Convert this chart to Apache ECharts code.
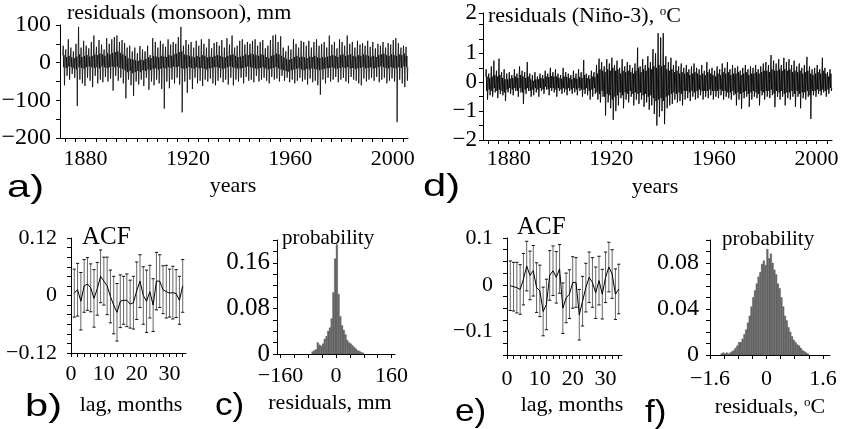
<!DOCTYPE html>
<html><head><meta charset="utf-8">
<script src="https://cdn.jsdelivr.net/npm/echarts@6/dist/echarts.min.js"></script>
<style>html,body{margin:0;padding:0;background:#fff}#c{width:842px;height:429px}</style>
</head><body><div id="c"></div><script>
// ---------- DATA ----------
const firstYear = 1871;
// panel a: monsoon residuals (mm), yearly envelope
const monsoonMax = [45,35,62,40,30,50,95,40,58,45, 38,55,72,42,60,48,35,65,50,62, 68,72,55,60,52,40,45,30,40,25,
  44,35,30,45,20,65,55,40,58,50, 42,62,48,55,50,68,95,45,60,48, 55,40,58,45,62,50,40,63,38,52,
  55,45,60,40,65,48,72,40,45,58, 62,48,55,50,58,62,45,55,60,38, 45,60,72,74,55,70,40,30,45,35,
  62,50,40,58,55,45,58,40,55,62, 45,50,55,40,72,48,55,38,62,55, 45,72,50,55,40,58,48,52,45,58,
  42,55,38,50,45,55,40,52,48,60, 65,52,40,45,42];
const monsoonMin = [-60,-35,-45,-30,-40,-115,-45,-55,-62,-40, -48,-65,-35,-55,-45,-52,-38,-50,-42,-74, -35,-48,-40,-55,-95,-45,-60,-88,-50,-58,
  -45,-62,-40,-72,-50,-60,-45,-55,-70,-122, -50,-68,-45,-55,-40,-58,-132,-50,-80,-45, -70,-40,-55,-48,-62,-45,-50,-42,-55,-60,
  -48,-40,-52,-45,-58,-40,-60,-45,-50,-40, -55,-38,-48,-45,-52,-35,-50,-45,-40,-48, -55,-38,-45,-42,-50,-35,-48,-40,-52,-45,
  -55,-48,-40,-50,-45,-58,-42,-52,-48,-60, -85,-45,-55,-40,-50,-45,-38,-52,-45,-40, -50,-55,-38,-45,-48,-55,-60,-42,-50,-45,
  -40,-48,-38,-52,-45,-40,-55,-48,-42,-50, -158,-45,-55,-65,-48];
const monsoonCoreHi = [20,15,18,14,12,16,22,15,18,20, 16,18,22,20,24,22,18,25,22,26, 28,30,26,22,18,12,10,8,6,5,
  8,6,10,14,12,18,16,14,18,16, 15,20,18,22,24,28,30,22,20,18, 16,14,18,15,20,18,14,16,15,18,
  20,18,15,14,18,20,22,18,15,16, 18,22,20,24,22,20,18,22,20,15, 12,18,20,24,22,18,14,10,8,10,
  15,18,14,16,14,12,16,15,18,14, 12,15,14,16,18,20,18,15,20,22, 18,20,22,18,16,20,18,22,20,18,
  16,18,15,20,22,24,20,18,22,20, 18,22,20,24,18];
const monsoonCoreLo = [-12,-14,-10,-12,-15,-18,-12,-14,-16,-12, -10,-12,-14,-12,-15,-10,-12,-14,-12,-10, -12,-10,-14,-16,-20,-25,-22,-28,-25,-22,
  -25,-20,-22,-18,-20,-16,-15,-18,-16,-14, -15,-12,-14,-10,-12,-10,-14,-16,-15,-12, -14,-16,-12,-15,-14,-16,-18,-15,-14,-12,
  -12,-14,-16,-15,-12,-10,-12,-14,-15,-16, -14,-12,-10,-12,-14,-15,-16,-14,-12,-15, -18,-16,-14,-12,-15,-18,-20,-22,-24,-20,
  -18,-16,-15,-18,-20,-16,-18,-15,-16,-18, -20,-18,-16,-15,-14,-12,-15,-16,-14,-12, -14,-12,-15,-14,-16,-15,-14,-12,-15,-14,
  -12,-15,-14,-12,-10,-12,-14,-15,-12,-14, -15,-12,-14,-10,-12];
// panel d: Nino-3 residuals (degC)
const ninoMax = [0.45,0.3,0.55,0.75,0.4,0.82,0.35,0.45,0.3,0.35, 0.25,0.45,0.3,0.55,0.4,0.35,0.7,0.3,0.25,0.35, 0.2,0.3,0.25,0.4,0.3,0.5,0.35,0.45,0.3,0.25,
  0.5,0.35,0.3,0.25,0.4,0.3,0.45,0.35,0.77,0.3, 0.25,0.4,0.35,0.6,0.82,0.7,0.55,0.8,0.65,0.85, 0.6,0.75,0.5,0.8,0.55,0.7,0.6,0.5,0.65,1.2,
  0.55,0.8,0.6,0.9,0.7,1.15,1.0,1.7,1.55,1.7, 0.9,0.7,0.85,0.6,0.75,0.55,0.65,0.5,0.6,0.45, 0.55,0.65,0.5,0.45,0.6,0.4,0.7,0.45,0.5,0.4,
  0.55,0.45,0.65,0.5,0.7,0.45,0.6,0.5,0.55,0.4, 0.5,0.6,0.45,0.55,0.5,0.6,0.45,0.55,0.65,0.7, 0.6,0.94,0.75,0.65,0.8,0.6,0.85,0.7,0.8,0.6,
  0.75,0.55,0.65,0.5,0.6,0.88,0.55,0.45,0.5,0.6, 0.45,0.85,0.5,0.35,0.45];
const ninoMin = [-0.6,-0.45,-0.5,-0.35,-0.55,-0.4,-0.45,-0.65,-0.35,-0.4, -0.45,-0.3,-0.5,-0.35,-0.75,-0.4,-0.3,-0.5,-0.45,-0.35, -0.5,-0.3,-0.4,-0.25,-0.45,-0.3,-0.35,-0.5,-0.3,-0.4,
  -0.35,-0.45,-0.3,-0.4,-0.35,-0.45,-0.3,-0.5,-0.4,-0.45, -0.6,-0.5,-0.4,-0.6,-0.7,-0.5,-1.15,-0.7,-0.9,-1.3, -1.0,-0.8,-0.55,-0.9,-0.6,-0.7,-0.5,-0.8,-0.6,-0.75,
  -0.6,-0.85,-0.7,-0.95,-0.8,-1.1,-1.5,-1.2,-1.0,-1.45, -0.9,-0.8,-0.75,-0.6,-0.7,-0.65,-0.8,-0.6,-0.55,-0.65, -0.5,-0.6,-0.55,-0.45,-0.6,-0.5,-0.55,-0.45,-0.6,-0.5,
  -0.55,-0.45,-0.6,-0.5,-0.55,-0.6,-0.45,-0.8,-0.6,-0.92, -0.55,-0.5,-0.85,-0.6,-0.5,-0.55,-0.8,-0.45,-0.6,-0.5, -0.55,-0.45,-0.86,-0.5,-0.6,-0.5,-0.8,-0.55,-0.6,-0.5,
  -0.85,-0.5,-0.9,-0.55,-0.6,-0.5,-1.27,-0.45,-0.5,-0.4, -0.45,-0.35,-0.5,-0.4,-0.3];
const ninoCoreHi = [0.2,0.15,0.2,0.25,0.2,0.25,0.15,0.1,0.1,0.12, 0.15,0.2,0.15,0.25,0.2,0.15,0.2,0.1,0.05,0.1, 0.1,0.15,0.12,0.2,0.18,0.22,0.2,0.2,0.15,0.12,
  0.2,0.18,0.15,0.1,0.15,0.12,0.18,0.15,0.25,0.15, 0.12,0.2,0.18,0.3,0.45,0.4,0.35,0.45,0.4,0.5, 0.4,0.45,0.3,0.4,0.35,0.4,0.35,0.3,0.4,0.5,
  0.35,0.45,0.4,0.5,0.45,0.55,0.5,0.6,0.55,0.6, 0.45,0.4,0.45,0.35,0.4,0.3,0.35,0.3,0.35,0.25, 0.3,0.35,0.3,0.25,0.3,0.25,0.35,0.3,0.25,0.2,
  0.3,0.25,0.35,0.3,0.35,0.25,0.3,0.3,0.35,0.25, 0.3,0.35,0.25,0.3,0.3,0.35,0.3,0.35,0.4,0.4, 0.35,0.45,0.4,0.4,0.45,0.4,0.45,0.4,0.45,0.35,
  0.4,0.35,0.4,0.3,0.35,0.4,0.3,0.25,0.3,0.35, 0.3,0.4,0.3,0.2,0.3];
const ninoCoreLo = [-0.3,-0.25,-0.3,-0.2,-0.3,-0.25,-0.3,-0.35,-0.25,-0.2, -0.25,-0.2,-0.3,-0.2,-0.35,-0.25,-0.2,-0.3,-0.25,-0.2, -0.25,-0.2,-0.25,-0.15,-0.25,-0.2,-0.2,-0.25,-0.2,-0.25,
  -0.2,-0.25,-0.2,-0.25,-0.2,-0.25,-0.2,-0.25,-0.25,-0.2, -0.3,-0.25,-0.2,-0.35,-0.4,-0.3,-0.5,-0.4,-0.45,-0.6, -0.5,-0.45,-0.35,-0.45,-0.35,-0.4,-0.3,-0.4,-0.35,-0.4,
  -0.35,-0.45,-0.4,-0.5,-0.45,-0.55,-0.65,-0.6,-0.55,-0.65, -0.5,-0.45,-0.4,-0.35,-0.4,-0.35,-0.4,-0.3,-0.3,-0.35, -0.3,-0.35,-0.3,-0.25,-0.3,-0.3,-0.3,-0.25,-0.3,-0.3,
  -0.3,-0.25,-0.3,-0.3,-0.35,-0.35,-0.3,-0.4,-0.35,-0.4, -0.35,-0.3,-0.4,-0.35,-0.3,-0.35,-0.4,-0.3,-0.35,-0.3, -0.3,-0.25,-0.4,-0.3,-0.35,-0.3,-0.4,-0.35,-0.35,-0.3,
  -0.4,-0.3,-0.4,-0.35,-0.35,-0.3,-0.45,-0.3,-0.3,-0.25, -0.3,-0.25,-0.3,-0.25,-0.2];
// panels b, e: autocorrelation with error bars, lags 1..34
const lags = [1,2,3,4,5,6,7,8,9,10,11,12,13,14,15,16,17,18,19,20,21,22,23,24,25,26,27,28,29,30,31,32,33,34];
const acfMonsoon = [0.005,0.012,-0.012,0.02,0.024,0.016,-0.006,0.014,0.04,0.03,0.02,-0.002,-0.02,-0.035,-0.012,-0.01,-0.01,
  -0.018,-0.015,0.01,0.03,0.0,-0.012,0.008,-0.02,0.03,0.03,0.012,0.008,0.005,0.006,0.004,-0.01,0.02];
const errMonsoon = [0.05,0.055,0.06,0.055,0.055,0.05,0.06,0.055,0.055,0.05,0.06,0.055,0.06,0.06,0.055,0.05,0.055,
  0.05,0.055,0.06,0.055,0.06,0.065,0.055,0.055,0.06,0.055,0.05,0.055,0.05,0.055,0.05,0.05,0.055];
const acfNino = [-0.002,-0.004,-0.006,-0.01,0.012,0.04,0.02,0.03,-0.006,-0.013,-0.057,-0.042,0.02,0.03,0.016,0.034,-0.05,
  -0.028,-0.02,0.005,0.005,-0.064,-0.035,-0.006,0.016,0.005,-0.017,0.009,-0.02,0.016,0.038,0.023,-0.02,-0.009];
const errNino = [0.053,0.052,0.054,0.053,0.055,0.053,0.052,0.054,0.053,0.055,0.052,0.054,0.053,0.053,0.055,0.052,0.054,
  0.053,0.052,0.055,0.053,0.054,0.053,0.052,0.054,0.053,0.055,0.052,0.053,0.054,0.053,0.052,0.054,0.053];
// panels c, f: histograms (bin start, bin width, probability)
const histMonsoonStart = -70, histMonsoonWidth = 5;
const histMonsoon = [0.004,0.006,0.008,0.02,0.016,0.014,0.018,0.026,0.031,0.04,0.046,0.062,0.108,0.167,0.192,
  0.105,0.066,0.05,0.042,0.034,0.024,0.02,0.018,0.015,0.012,0.009,0.006,0.005,0.003,0.002];
const histNinoStart = -1.3, histNinoWidth = 0.05;
const histNino = [0.001,0.002,0.001,0.002,0.001,0.002,0.003,0.004,0.006,0.008,0.011,0.011,0.014,0.018,0.022,0.028,0.034,0.042,
  0.05,0.056,0.062,0.068,0.072,0.079,0.082,0.078,0.092,0.084,0.088,0.08,0.074,0.07,0.062,0.058,0.05,0.042,0.034,0.03,
  0.024,0.02,0.016,0.013,0.011,0.009,0.008,0.006,0.004,0.003,0.002,0.001];
// tick labels
const yearLabels = [1880,1920,1960,2000];
const monsoonYLabels = [-200,-100,0,100];
const ninoYLabels = [-2,-1,0,1,2.4];
const acfMonsoonYLabels = [-0.12,0,0.12];
const acfNinoYLabels = [-0.1,0,0.1];
const lagLabels = [0,10,20,30];
const histMonsoonXLabels = [-160,0,160];
const histMonsoonYLabels = [0,0.08,0.16];
const histNinoXLabels = [-1.6,0,1.6];
const histNinoYLabels = [0,0.04,0.08];

// ---------- BUILD ----------
function steps(a, b, s){ const r=[]; for(let v=a; v<=b+1e-9; v+=s) r.push(+v.toFixed(4)); return r; }
// each year: core-high, peak, core-low, core-high, trough, core-low
function series6(hi, cHi, cLo, lo){
  const d=[], k=1/6;
  for(let i=0;i<hi.length;i++){ const y=firstYear+i;
    d.push([y+0.5*k,cHi[i]],[y+1.5*k,hi[i]],[y+2.5*k,cLo[i]],[y+3.5*k,cHi[i]],[y+4.5*k,lo[i]],[y+5.5*k,cLo[i]]);
  }
  return d;
}
const F='Liberation Serif';
const fmtNum = v => (v<0 ? '\u2212'+String(-v) : String(v));
function ax(gi, min, max, ticks, labels, margin, size, fmt){
  return {type:'value', gridIndex:gi, min:min, max:max,
    axisLine:{show:true,onZero:false,lineStyle:{color:'#000',width:1}},
    axisTick:{show:true,customValues:ticks,length:4,lineStyle:{color:'#000',width:1}},
    axisLabel:{show:true,customValues:labels,color:'#000',fontFamily:F,fontSize:size,margin:margin,
      formatter: fmt || fmtNum},
    splitLine:{show:false}, minorTick:{show:false}};
}
function errRender(params, api){
  const x=api.value(0), lo=api.value(1), hi=api.value(2);
  const p1=api.coord([x,hi]), p2=api.coord([x,lo]);
  return {type:'group', children:[
    {type:'line',shape:{x1:p1[0],y1:p1[1],x2:p2[0],y2:p2[1]},style:{stroke:'#666',lineWidth:1}},
    {type:'line',shape:{x1:p1[0]-1.6,y1:p1[1],x2:p1[0]+1.6,y2:p1[1]},style:{stroke:'#111',lineWidth:1}},
    {type:'line',shape:{x1:p2[0]-1.6,y1:p2[1],x2:p2[0]+1.6,y2:p2[1]},style:{stroke:'#111',lineWidth:1}}]};
}
function histRender(params, api){
  const x0=api.value(0), x1=api.value(1), v=api.value(2);
  const a=api.coord([x0,v]), b=api.coord([x1,0]);
  return {type:'rect',shape:{x:a[0],y:a[1],width:b[0]-a[0],height:b[1]-a[1]},
    style:{fill:'#6a6a6a',stroke:'#4a4a4a',lineWidth:0.3}};
}
const errB = lags.map((l,i)=>[l, acfMonsoon[i]-errMonsoon[i], acfMonsoon[i]+errMonsoon[i]]);
const errE = lags.map((l,i)=>[l, acfNino[i]-errNino[i], acfNino[i]+errNino[i]]);
const histC = histMonsoon.map((v,i)=>[histMonsoonStart+i*histMonsoonWidth, histMonsoonStart+(i+1)*histMonsoonWidth, v]);
const histF = histNino.map((v,i)=>[+(histNinoStart+i*histNinoWidth).toFixed(3), +(histNinoStart+(i+1)*histNinoWidth).toFixed(3), v]);

const grids=[
  {left:60, top:25, width:348, height:113},
  {left:483, top:13, width:349, height:127},
  {left:71, top:238, width:115, height:115},
  {left:277, top:240, width:118, height:114},
  {left:507, top:238, width:115, height:117},
  {left:710, top:240, width:120, height:115}
].map(g=>Object.assign(g,{containLabel:false, outerBoundsMode:'none'}));

function txt(t, x, y, size, opts){
  opts=opts||{};
  return {type:'text', x:x, y:y, scaleX:opts.sx||1, silent:true,
    style:Object.assign({text:t, fill:'#000', fontFamily:opts.fam||F, fontSize:size,
      textAlign:opts.align||'left', textVerticalAlign:'middle'}, opts.style||{})};
}
const supRich = {a:{fontFamily:F,fontSize:22,fill:'#000'}, s:{fontFamily:F,fontSize:13,fill:'#000',verticalAlign:'top'}};
const SANS='Liberation Sans';

const option={
  animation:false,
  backgroundColor:'#fff',
  grid:grids,
  xAxis:[
    ax(0,1870,2006,steps(1872,2004,4),yearLabels,10,22),
    ax(1,1870,2006,steps(1872,2004,4),yearLabels,8,22),
    ax(2,0,35,steps(0,34,2),lagLabels,10,22),
    ax(3,-170,170,steps(-160,160,40),histMonsoonXLabels,11,22),
    ax(4,0,35,steps(0,34,2),lagLabels,13,22),
    ax(5,-1.6,1.8,steps(-1.6,1.6,0.4),histNinoXLabels,13,22)
  ],
  yAxis:[
    ax(0,-200,100,steps(-200,100,50),monsoonYLabels,9,24),
    ax(1,-2,2.4,steps(-2,2,0.5).concat([2.4]),ninoYLabels,6,23,v=>(v>2?'2':fmtNum(v))),
    ax(2,-0.12,0.12,steps(-0.12,0.12,0.02),acfMonsoonYLabels,14,22),
    ax(3,0,0.2,steps(0,0.2,0.02),histMonsoonYLabels,7,25),
    ax(4,-0.15,0.1,steps(-0.15,0.1,0.025),acfNinoYLabels,14,22),
    ax(5,0,0.1,steps(0,0.1,0.01),histNinoYLabels,11,24)
  ],
  series:[
    {type:'line',xAxisIndex:0,yAxisIndex:0,data:series6(monsoonMax,monsoonCoreHi,monsoonCoreLo,monsoonMin),
      showSymbol:false,symbol:'none',lineStyle:{color:'#000',width:0.75},silent:true,clip:true},
    {type:'line',xAxisIndex:1,yAxisIndex:1,data:series6(ninoMax,ninoCoreHi,ninoCoreLo,ninoMin),
      showSymbol:false,symbol:'none',lineStyle:{color:'#000',width:0.85},silent:true,clip:true},
    {type:'custom',xAxisIndex:2,yAxisIndex:2,data:errB,renderItem:errRender,encode:{x:0,y:[1,2]},silent:true},
    {type:'line',xAxisIndex:2,yAxisIndex:2,data:lags.map((l,i)=>[l,acfMonsoon[i]]),
      showSymbol:false,symbol:'none',lineStyle:{color:'#000',width:1},silent:true},
    {type:'custom',xAxisIndex:3,yAxisIndex:3,data:histC,renderItem:histRender,encode:{x:[0,1],y:2},silent:true},
    {type:'custom',xAxisIndex:4,yAxisIndex:4,data:errE,renderItem:errRender,encode:{x:0,y:[1,2]},silent:true},
    {type:'line',xAxisIndex:4,yAxisIndex:4,data:lags.map((l,i)=>[l,acfNino[i]]),
      showSymbol:false,symbol:'none',lineStyle:{color:'#000',width:1},silent:true},
    {type:'custom',xAxisIndex:5,yAxisIndex:5,data:histF,renderItem:histRender,encode:{x:[0,1],y:2},silent:true}
  ],
  graphic:{elements:[
    txt('residuals (monsoon), mm',67,13,22),
    {type:'text',x:488,y:16,silent:true,style:{text:'{a|residuals (Niño-3), }{s|o}{a|C}',rich:supRich,textVerticalAlign:'middle',fontFamily:F,fontSize:22}},
    txt('years',233,186,22,{align:'center'}),
    txt('years',655,187,22,{align:'center'}),
    txt('a)',7,188,32,{fam:SANS,sx:1.3}),
    txt('d)',423,187,32,{fam:SANS,sx:1.3}),
    txt('ACF',82,237,25),
    txt('probability',282,238,21),
    txt('ACF',517,227,25),
    txt('probability',722,239,21),
    txt('b)',25,407,32,{fam:SANS,sx:1.3}),
    txt('c)',215,406,32,{fam:SANS,sx:1.1}),
    txt('e)',455,412,32,{fam:SANS,sx:1.1}),
    txt('f)',645,413,32,{fam:SANS,sx:1.1}),
    txt('lag, months',131,405,22,{align:'center'}),
    txt('residuals, mm',330,403,22,{align:'center'}),
    txt('lag, months',572,405,22,{align:'center'}),
    {type:'text',x:770,y:407,silent:true,style:{text:'{a|residuals, }{s|o}{a|C}',rich:supRich,textAlign:'center',textVerticalAlign:'middle',fontFamily:F,fontSize:22}}
  ]}
};
const chart=echarts.init(document.getElementById('c'),null,{renderer:'canvas'});
chart.setOption(option);
</script></body></html>
